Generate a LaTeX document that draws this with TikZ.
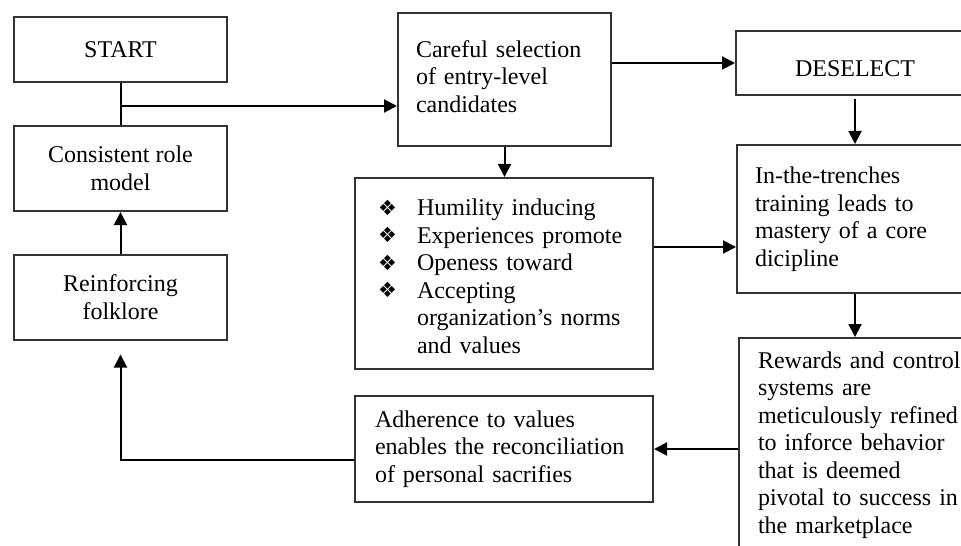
\documentclass[tikz,border=0pt]{standalone}
\usepackage{fontspec}
\setmainfont{Liberation Serif}
\newfontfamily\symfont{DejaVu Sans}
\usetikzlibrary{arrows.meta}

% diamond bullet followed by a fixed indent
\newcommand\diabullet{\makebox[19.5pt][l]{\raisebox{0.2pt}{\symfont\fontsize{10.5}{10.5}\selectfont ❖}}}
\newcommand\listindent{\hspace*{19.5pt}}

\begin{document}
\begin{tikzpicture}[x=0.5pt,y=-0.5pt,
  box/.style={draw=black!80, line width=1pt, rectangle, inner sep=0pt,
    font=\fontsize{12}{13.75}\selectfont},
  cbox/.style={box, align=center, minimum width=106.5pt},
  lbox/.style={box, anchor=north west, align=left},
  arr/.style={-{Triangle[length=6.5pt,width=6.5pt]}, line width=1pt},
  link/.style={line width=1pt}
]
\clip (0,0) rectangle (961,545);
\fill[white] (0,0) rectangle (961,545);

% left column
\node[cbox, minimum height=32.5pt] (start) at (120.5,49.5) {START};
\node[cbox, minimum height=42.5pt] (role) at (120.5,168.5) {Consistent role\\model};
\node[cbox, minimum height=42.5pt] (folk) at (120.5,297) {Reinforcing\\folklore};

% middle column
\node[lbox, minimum width=106.5pt, minimum height=66.5pt, inner xsep=9pt, text width=88.5pt]
  (careful) at (397,12) {Careful selection\\of entry-level\\candidates\rule[-3pt]{0pt}{0pt}};
\node[lbox, minimum width=149pt, minimum height=95.5pt, inner xsep=11.5pt, text width=126pt]
  (bullets) at (354,177)
  {\rule{0pt}{11pt}\diabullet Humility inducing\\
   \diabullet Experiences promote\\
   \diabullet Openess toward\\
   \diabullet Accepting\\
   \listindent organization’s norms\\
   \listindent and values};
\node[lbox, minimum width=149pt, minimum height=53pt, inner xsep=10pt, text width=129pt]
  (adher) at (354,395)
  {Adherence to values\\enables the reconciliation\\of personal sacrifies};

% right column (boxes run past the right edge)
\node[box, minimum width=119pt, minimum height=32pt, text height=13.9pt, text depth=0pt]
  (deselect) at (855,63) {DESELECT};
\node[lbox, minimum width=119.5pt, minimum height=74pt, inner xsep=9pt, text width=101.5pt]
  (train) at (736,144)
  {In-the-trenches\\training leads to\\mastery of a core\\dicipline};
\node[lbox, inner xsep=9.5pt, inner ysep=6.8pt, text width=130pt]
  (reward) at (738,337)
  {Rewards and control\\systems are\\meticulously refined\\to inforce behavior\\that is deemed\\pivotal to success in\\the marketplace};

% connectors
\coordinate (split) at (120.5,106);
\draw[link] (start.south) -- (role.north);
\draw[arr] (split) -- (split -| careful.west);
\draw[arr] (deselect.west -| careful.east) -- (deselect.west);
\draw[arr] (careful.south) -- (careful.south |- bullets.north);
\draw[arr] ([yshift=-1.5pt]deselect.south) -- (deselect.south |- train.north);
\coordinate (bout) at ([yshift=13.25pt]bullets.east);
\draw[arr] (bout) -- (bout -| train.west);
\draw[arr] (train.south -| deselect.south) -- (deselect.south |- reward.north);
\draw[arr] (adher.east -| reward.west) -- (adher.east);
\coordinate (aout) at ([yshift=-5.5pt]adher.west);
\draw[arr, shorten >=7pt] (aout) -| (folk.south);
\draw[arr] (folk.north) -- (role.south);
\end{tikzpicture}
\end{document}
